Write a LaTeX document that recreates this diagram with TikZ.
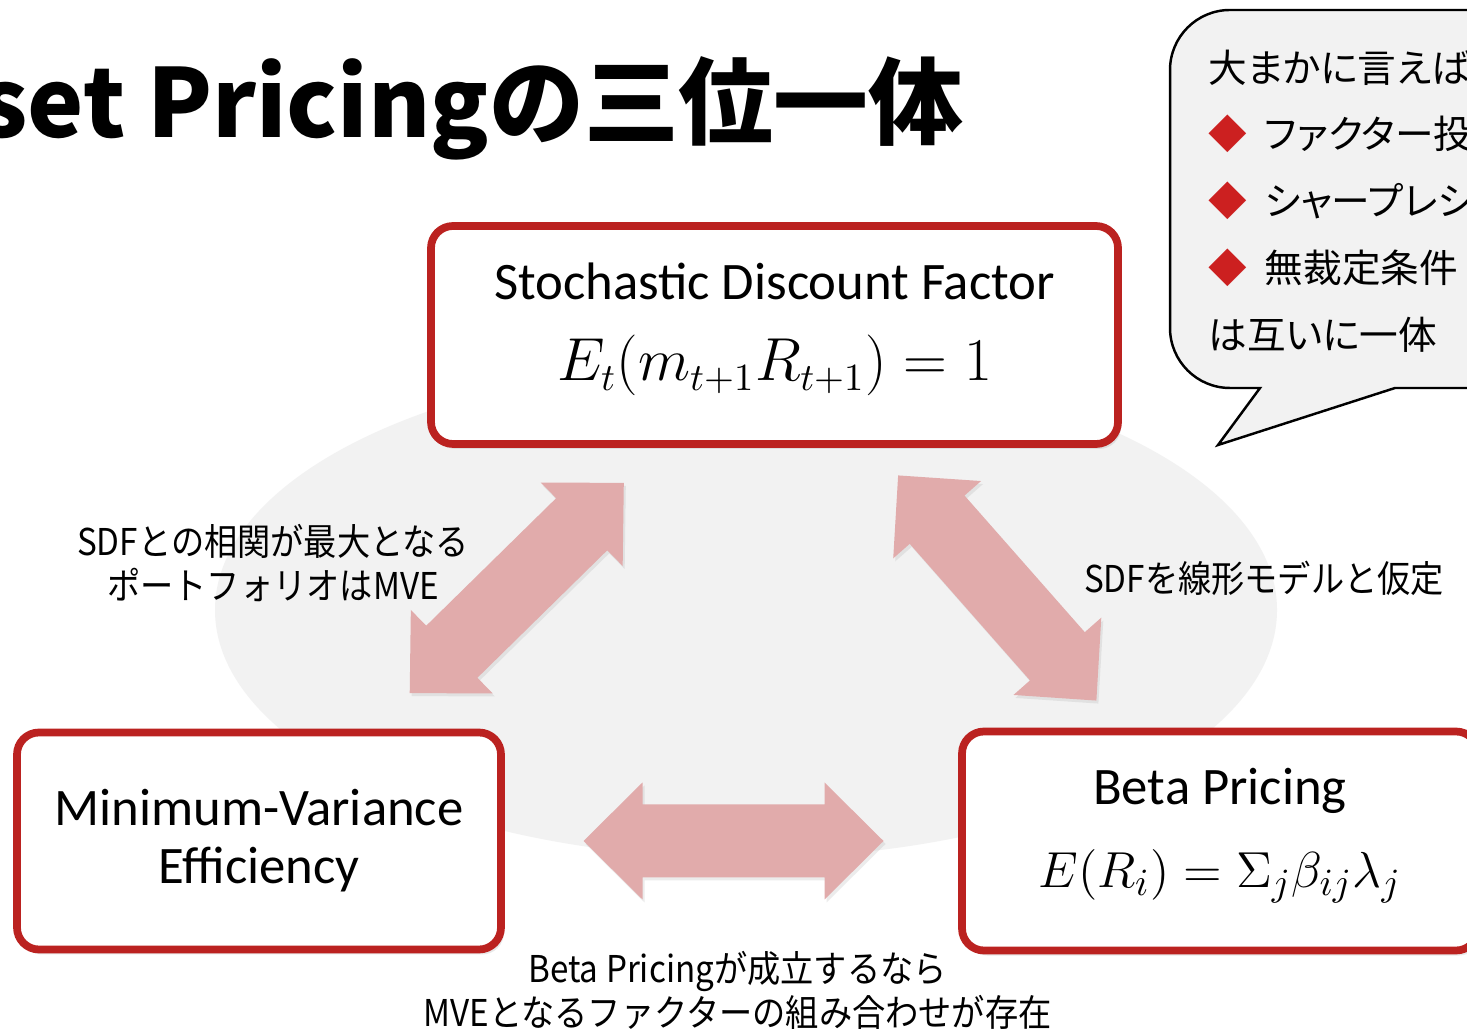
\documentclass[tikz,border=0pt]{standalone}
\usepackage{fontspec}
\setmainfont{Carlito}
\newfontfamily\jpfont{Noto Sans CJK JP}
\newfontfamily\jpnarrow{Noto Sans CJK JP}[FakeStretch=0.9]
\newfontfamily\jpprop{Noto Sans CJK JP}[RawFeature=+palt]
\usepackage{tikz}
\usetikzlibrary{calc,shadows,positioning}
\definecolor{pillarred}{RGB}{187,34,32}
\definecolor{linkpink}{RGB}{225,171,171}
\definecolor{ovalgray}{RGB}{242,242,242}
\definecolor{bulletred}{RGB}{204,32,32}
\tikzset{% 
  pillar box/.style={%
    draw=pillarred,
    line width=2.2pt,
    fill=white,
    rounded corners=0.22cm,
    align=center,
    font=\fontsize{15}{16.5}\selectfont,
    drop shadow={shadow xshift=0.03cm,shadow yshift=-0.05cm,opacity=0.18}
  }
}
\tikzset{% 
  pillar text/.style={%
    anchor=base,
    inner sep=0pt,
    font=\fontsize{15}{18}\selectfont
  }
}
\tikzset{% 
  link label/.style={%
    align=center,
    font=\jpnarrow\fontsize{10.5}{12.5}\selectfont
  }
}
\tikzset{% 
  speech bubble/.style={%
    draw=black,
    line width=0.7pt,
    fill=ovalgray
  }
}
\tikzset{% 
  pics/link arrow/.style={%
    code={%
      \path [fill=linkpink,drop shadow={shadow xshift=0.02cm,shadow yshift=-0.03cm,opacity=0.15}]
        (-1.5,0) -- (-0.91,0.585) -- (-0.91,0.365) -- (0.91,0.365) -- (0.91,0.585)
        -- (1.5,0) -- (0.91,-0.585) -- (0.91,-0.365) -- (-0.91,-0.365)
        -- (-0.91,-0.585) -- cycle;
    }
  }
}
\newcommand{\bubblebullet}{{\color{bulletred}◆}\hspace{0.45em}}

\begin{document}
\begin{tikzpicture}
  \useasboundingbox (0,0) rectangle (14.67,10.28);
  \clip (0,0) rectangle (14.67,10.28);
  \fill [white] (0,0) rectangle (14.67,10.28);
  \fill [ovalgray] (7.46,4.18) ellipse [x radius=5.31, y radius=2.48];

  \node (title) [anchor=base east, font=\jpfont\bfseries\fontsize{27}{30}\selectfont] at (9.76, 8.90) {Asset Pricingの三位一体};

  % speech bubble, runs past the right edge
  \draw [speech bubble] (12.60,6.40) -- (12.18,5.83) -- (13.95,6.40) -- (15.20,6.40) -- (15.20,10.18)
    -- (12.30,10.18) arc [start angle=90, end angle=180, radius=0.6] -- (11.70,7.00)
    arc [start angle=180, end angle=270, radius=0.6] -- cycle;
  \node (bubbletext) [anchor=west, align=left, inner sep=0pt, font=\jpprop\fontsize{11}{19}\selectfont] at (12.08, 8.27)
    {大まかに言えば\\\bubblebullet ファクター投資\\\bubblebullet シャープレシオ\\\bubblebullet 無裁定条件\\は互いに一体};

  \node (sdf) [pillar box, minimum width=6.87cm, minimum height=2.18cm] at (7.745, 6.93) {};
  \node (sdfname) [pillar text] at ([yshift=0.35cm]sdf.center) {Stochastic Discount Factor};
  \node (sdfeq) [pillar text, font=\fontsize{16}{18}\selectfont] at ([yshift=-0.46cm]sdf.center) {$E_t(m_{t+1}R_{t+1}) = 1$};

  \node (mve) [pillar box, minimum width=4.84cm, minimum height=2.17cm] at (2.59, 1.87)
    {Minimum-Variance\\Efficiency};

  \node (beta) [pillar box, minimum width=5.16cm, minimum height=2.19cm] at (12.20, 1.87) {};
  \node (betaname) [pillar text] at ([yshift=0.36cm]beta.center) {Beta Pricing};
  \node (betaeq) [pillar text] at ([yshift=-0.47cm]beta.center) {$E(R_i) = \Sigma_j\beta_{ij}\lambda_j$};

  \path let \p1 = ($(sdf)-(mve)$), \n1 = {atan2(\y1,\x1)} in ($(mve)!0.5!(sdf)$) pic [rotate=\n1] {link arrow};
  \path let \p1 = ($(beta)-(sdf)$), \n1 = {atan2(\y1,\x1)} in ($(sdf)!0.5!(beta)$) pic [rotate=\n1] {link arrow};
  \path ($(mve)!0.5!(beta)+(-0.06,0)$) pic {link arrow};

  \node (corrnote) [link label] at (2.73, 4.65) {SDFとの相関が最大となる\\ポートフォリオはMVE};
  \node (linearnote) [link label] at (12.64, 4.50) {SDFを線形モデルと仮定};
  \node (betanote) [link label] at (7.375, 0.38) {Beta Pricingが成立するなら\\MVEとなるファクターの組み合わせが存在};
\end{tikzpicture}
\end{document}
